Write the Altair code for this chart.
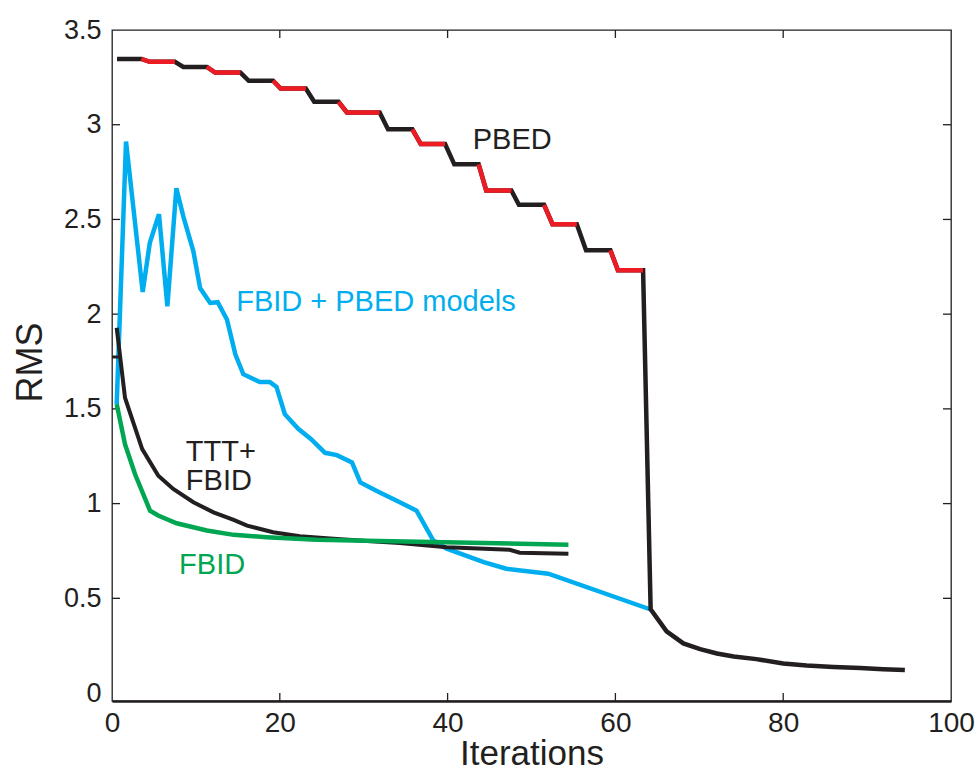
import altair as alt
import pandas as pd

# ---------------- data ----------------
# PBED staircase: corner points then the tail after the drop
pbed_x = [0.6, 3.5, 4.5, 7.5, 8.5, 11.3, 12.3, 15.3, 16.3, 19.2, 20.1, 23.1,
          24.1, 27.0, 28.0, 31.9, 32.9, 35.8, 36.8, 39.7, 40.8, 43.7, 44.6,
          47.6, 48.5, 51.5, 52.5, 55.4, 56.5, 59.4, 60.3, 63.3,
          64.2, 66.1, 68.1, 70.1, 72.1, 74.1, 76.8, 80.0, 82.8, 86.0, 89.2, 91.9, 94.5]
pbed_y = [3.347, 3.347, 3.332, 3.332, 3.305, 3.305, 3.275, 3.275, 3.232, 3.232,
          3.191, 3.191, 3.121, 3.121, 3.065, 3.065, 2.976, 2.976, 2.898, 2.898,
          2.791, 2.791, 2.653, 2.653, 2.577, 2.577, 2.475, 2.475, 2.337, 2.337,
          2.232, 2.232,
          0.442, 0.326, 0.262, 0.232, 0.209, 0.193, 0.179, 0.156, 0.146, 0.138,
          0.132, 0.126, 0.121]
# indices where a red step (descent + flat) begins; each spans 3 points
pbed_red_starts = [1, 5, 9, 13, 17, 21, 25, 29]

# FBID + PBED models (blue)
blue_x = [0.56, 1.67, 3.66, 4.5, 5.6, 6.6, 7.67, 8.5, 9.7, 10.5, 11.7, 12.6,
          13.7, 14.7, 15.65, 17.6, 18.8, 19.6, 20.6, 22.2, 23.7, 25.4, 26.8,
          28.6, 29.6, 31.5, 34.3, 36.3, 38.3, 39.9, 44.3, 47.0, 52.0, 64.2]
blue_y = [1.525, 2.911, 2.117, 2.375, 2.528, 2.042, 2.665, 2.516, 2.332, 2.138,
          2.059, 2.063, 1.972, 1.788, 1.683, 1.642, 1.642, 1.616, 1.472, 1.395,
          1.341, 1.268, 1.256, 1.217, 1.112, 1.068, 1.007, 0.963, 0.805, 0.762,
          0.691, 0.656, 0.630, 0.441]

# TTT + FBID (black)
ttt_x = [0.56, 1.55, 3.6, 5.52, 7.3, 9.7, 12.1, 14.5, 16.1, 19.2, 22.4, 26.4,
         30.4, 34.3, 39.9, 47.4, 48.6, 54.4]
ttt_y = [1.928, 1.559, 1.288, 1.147, 1.077, 1.007, 0.954, 0.914, 0.884, 0.849,
         0.828, 0.814, 0.803, 0.792, 0.770, 0.756, 0.741, 0.735]

# FBID (green)
fbid_x = [0.56, 1.55, 2.74, 4.53, 5.5, 7.7, 11.3, 14.5, 18.4, 24.4, 31.9, 54.4]
fbid_y = [1.525, 1.314, 1.156, 0.963, 0.937, 0.896, 0.858, 0.835, 0.823, 0.809,
          0.802, 0.783]

# short black stub at the left axis
stub_x = [0.0, 0.95]
stub_y = [1.774, 1.774]

# annotations
label_text = ["PBED", "FBID + PBED models", "TTT+", "FBID", "FBID"]
label_x = [43.0, 14.8, 8.8, 8.8, 8.0]
label_y = [2.92, 2.063, 1.274, 1.117, 0.676]
label_color = ["#231F20", "#00AEEF", "#231F20", "#231F20", "#00A651"]

x_ticks = [0, 20, 40, 60, 80, 100]
y_ticks = [0, 0.5, 1, 1.5, 2, 2.5, 3, 3.5]
x_inner_ticks = [20, 40, 60, 80]
y_inner_ticks = [0.5, 1, 1.5, 2, 2.5, 3]

# ---------------- layout ----------------
W, H = 839, 671
BLACK = "#231F20"
FONT = "Liberation Sans"

xs = alt.Scale(domain=[0, 100], nice=False, zero=False)
ys = alt.Scale(domain=[-0.042, 3.5], nice=False, zero=False)

def frame(xv, yv):
    return pd.DataFrame({"x": xv, "y": yv, "i": list(range(len(xv)))})

pbed_df = frame(pbed_x, pbed_y)
red_rows = []
for k, s in enumerate(pbed_red_starts):
    for j in range(s, s + 3):
        red_rows.append({"x": pbed_x[j], "y": pbed_y[j], "seg": k, "i": j})
red_df = pd.DataFrame(red_rows)

x_axis = alt.Axis(values=x_ticks, tickSize=0, labelPadding=8, labelFontSize=28,
                  labelFont=FONT, labelColor=BLACK, labelFlush=False,
                  labelOverlap=False, domain=True, domainColor=BLACK,
                  domainWidth=2.5, grid=False, title="Iterations",
                  titleFont=FONT, titleFontSize=35, titleFontWeight="normal",
                  titleColor=BLACK, titleBaseline="alphabetic", titleY=63)
y_axis = alt.Axis(values=y_ticks, format="~g", tickSize=0, labelPadding=11,
                  labelFontSize=27, labelFont=FONT, labelColor=BLACK,
                  labelFlush=False, labelOverlap=False, domain=False, grid=False,
                  title="RMS", titleFont=FONT, titleFontSize=36,
                  titleFontWeight="normal", titleColor=BLACK,
                  titleBaseline="alphabetic", titleX=-71, titleY=332)

def line(df, color, width):
    return alt.Chart(df).mark_line(color=color, strokeWidth=width,
                                   strokeJoin="miter", strokeCap="butt").encode(
        x=alt.X("x:Q", scale=xs, axis=x_axis),
        y=alt.Y("y:Q", scale=ys, axis=y_axis),
        order="i:Q")

blue = line(frame(blue_x, blue_y), "#00AEEF", 4.5)
ttt = line(frame(ttt_x, ttt_y), BLACK, 4)
fbid = line(frame(fbid_x, fbid_y), "#00A651", 4.5)
stub = line(frame(stub_x, stub_y), BLACK, 3)
pbed = line(pbed_df, BLACK, 4.5)
red = alt.Chart(red_df).mark_line(color="#ED1C24", strokeWidth=4.5,
                                  strokeJoin="miter", strokeCap="butt").encode(
    x=alt.X("x:Q", scale=xs), y=alt.Y("y:Q", scale=ys),
    detail="seg:N", order="i:Q")

# inward ticks on all four sides
xt = pd.DataFrame({"x": x_inner_ticks})
yt = pd.DataFrame({"y": y_inner_ticks})
tick_style = dict(color=BLACK, strokeWidth=1.3)
bottom_t = alt.Chart(xt).mark_rule(**tick_style).encode(
    x=alt.X("x:Q", scale=xs), y=alt.value(H), y2=alt.value(H - 8))
top_t = alt.Chart(xt).mark_rule(**tick_style).encode(
    x=alt.X("x:Q", scale=xs), y=alt.value(0), y2=alt.value(8))
left_t = alt.Chart(yt).mark_rule(**tick_style).encode(
    y=alt.Y("y:Q", scale=ys), x=alt.value(0), x2=alt.value(8))
right_t = alt.Chart(yt).mark_rule(**tick_style).encode(
    y=alt.Y("y:Q", scale=ys), x=alt.value(W), x2=alt.value(W - 8))

labels = alt.Chart(pd.DataFrame({"t": label_text, "x": label_x, "y": label_y,
                                 "c": label_color})).mark_text(
    align="left", baseline="middle", font=FONT, fontSize=29).encode(
    x=alt.X("x:Q", scale=xs), y=alt.Y("y:Q", scale=ys),
    text="t:N", color=alt.Color("c:N", scale=None))

chart = alt.layer(bottom_t, top_t, left_t, right_t, blue, ttt, fbid, stub,
                  pbed, red, labels).properties(
    width=W, height=H,
    autosize=alt.AutoSizeParams(type="none"),
    padding={"left": 112, "top": 30, "right": 27, "bottom": 69},
    background="white",
).configure_view(stroke=BLACK, strokeWidth=1.3)

chart.save("out.html", embed_options={"renderer": "svg", "actions": False})
